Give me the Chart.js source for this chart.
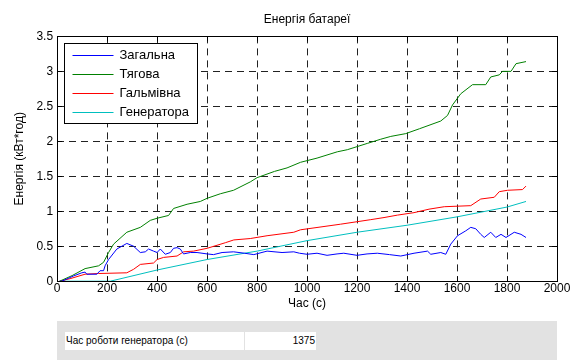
<!DOCTYPE html>
<html>
<head>
<meta charset="utf-8">
<script src="https://cdn.jsdelivr.net/npm/chart.js@4"></script>
<style>
  html, body { margin: 0; padding: 0; background: #fff; }
  #wrap { position: relative; width: 571px; height: 360px; font-family: "Liberation Sans", Arial, sans-serif; }
  #wrap canvas { position: absolute; left: 0; top: 0; }
  #panel { position: absolute; left: 57px; top: 321px; width: 500px; height: 39px; background: #e2e2e2; }
  .cell { position: absolute; top: 11px; height: 18px; background: #fff; font-size: 10px; line-height: 18px; color: #000; }
  #c1 { left: 8px; width: 178px; padding-left: 1px; }
  #c2 { left: 188px; width: 70px; text-align: right; padding-right: 1px; }
</style>
</head>
<body>
<div id="wrap">
  <canvas id="myChart" width="571" height="321"></canvas>
  <div id="panel">
    <div class="cell" id="c1">Час роботи генератора (с)</div>
    <div class="cell" id="c2">1375</div>
  </div>
</div>
<script>
(() => {
  'use strict'

  // series names
  const names = ['Загальна', 'Тягова', 'Гальмівна', 'Генератора']
  const colors = ['#0000ff', '#008000', '#ff0000', '#00bfbf']

  // Загальна
  const totalT = [10, 19, 66, 99, 112, 119, 159, 172, 186, 192, 206, 239, 279, 306, 333, 353, 366, 386, 400, 413, 433, 453, 466, 480, 493, 506, 533, 560, 600, 626, 660, 706, 750, 787, 840, 900, 947, 970, 1000, 1040, 1080, 1120, 1147, 1200, 1240, 1281, 1330, 1375, 1428, 1482, 1495, 1535, 1555, 1575, 1602, 1635, 1655, 1675, 1695, 1709, 1735, 1755, 1776, 1796, 1829, 1856, 1876]
  const totalV = [0, 0, 0.075, 0.12, 0.13, 0.10, 0.10, 0.15, 0.15, 0.22, 0.31, 0.46, 0.54, 0.50, 0.41, 0.42, 0.46, 0.43, 0.41, 0.46, 0.385, 0.41, 0.47, 0.48, 0.46, 0.39, 0.41, 0.41, 0.39, 0.38, 0.41, 0.42, 0.40, 0.38, 0.43, 0.41, 0.42, 0.40, 0.385, 0.40, 0.37, 0.39, 0.40, 0.37, 0.39, 0.40, 0.38, 0.36, 0.40, 0.43, 0.385, 0.41, 0.385, 0.53, 0.65, 0.72, 0.77, 0.75, 0.67, 0.625, 0.70, 0.625, 0.67, 0.625, 0.70, 0.67, 0.625]

  // Тягова
  const tractT = [10, 60, 112, 166, 186, 206, 226, 279, 333, 373, 400, 446, 466, 520, 573, 600, 653, 706, 773, 800, 870, 920, 974, 1040, 1121, 1161, 1241, 1295, 1335, 1395, 1450, 1535, 1562, 1582, 1615, 1662, 1715, 1735, 1769, 1782, 1816, 1836, 1876]
  const tractV = [0, 0.08, 0.18, 0.22, 0.27, 0.41, 0.53, 0.70, 0.77, 0.87, 0.90, 0.94, 1.04, 1.10, 1.14, 1.185, 1.25, 1.30, 1.42, 1.48, 1.57, 1.62, 1.70, 1.76, 1.85, 1.88, 1.97, 2.03, 2.07, 2.11, 2.18, 2.29, 2.37, 2.52, 2.68, 2.81, 2.81, 2.92, 2.95, 3.00, 3.00, 3.11, 3.14]

  // Гальмівна
  const brakeT = [10, 52, 112, 166, 279, 306, 333, 386, 400, 426, 480, 506, 546, 600, 673, 707, 773, 840, 947, 974, 1134, 1255, 1308, 1362, 1428, 1488, 1549, 1655, 1695, 1749, 1769, 1802, 1862, 1876]
  const brakeV = [0, 0.036, 0.10, 0.11, 0.12, 0.17, 0.24, 0.26, 0.31, 0.34, 0.36, 0.42, 0.43, 0.47, 0.55, 0.59, 0.61, 0.65, 0.70, 0.735, 0.815, 0.88, 0.91, 0.945, 0.98, 1.03, 1.065, 1.08, 1.175, 1.20, 1.28, 1.30, 1.31, 1.36]

  // Генератора
  const genT = [10, 213, 400, 600, 800, 1000, 1200, 1400, 1600, 1800, 1876]
  const genV = [0, 0, 0.16, 0.31, 0.43, 0.58, 0.70, 0.80, 0.92, 1.06, 1.14]

  const pts = (t, v) => t.map((x, i) => ({ x: x, y: v[i] }))
  const series = [pts(totalT, totalV), pts(tractT, tractV), pts(brakeT, brakeV), pts(genT, genV)]

  const font = { family: '"Liberation Sans", Arial, sans-serif', size: 12 }

  // frame, inner ticks and legend box like matlab
  const matlabAxes = {
    id: 'matlabAxes',
    afterDraw(chart) {
      const { ctx, chartArea: a, scales } = chart
      ctx.save()
      ctx.strokeStyle = '#000'
      ctx.lineWidth = 1
      ctx.setLineDash([])
      ctx.beginPath()
      scales.x.ticks.forEach(t => {
        const px = Math.round(scales.x.getPixelForValue(t.value)) + 0.5
        ctx.moveTo(px, a.bottom); ctx.lineTo(px, a.bottom - 5)
        ctx.moveTo(px, a.top); ctx.lineTo(px, a.top + 5)
      })
      scales.y.ticks.forEach(t => {
        const py = Math.round(scales.y.getPixelForValue(t.value)) + 0.5
        ctx.moveTo(a.left, py); ctx.lineTo(a.left + 5, py)
        ctx.moveTo(a.right, py); ctx.lineTo(a.right - 5, py)
      })
      ctx.stroke()
      ctx.strokeRect(Math.round(a.left) + 0.5, Math.round(a.top) + 0.5, Math.round(a.right - a.left), Math.round(a.bottom - a.top))

      // legend
      const lx = Math.round(a.left) + 7.5, ly = Math.round(a.top) + 7.5
      ctx.fillStyle = '#fff'
      ctx.fillRect(lx, ly, 133, 80)
      ctx.strokeRect(lx, ly, 133, 80)
      ctx.font = '13px "Liberation Sans", Arial, sans-serif'
      ctx.textBaseline = 'middle'
      chart.data.datasets.forEach((ds, i) => {
        const y = Math.round(ly + 11 + i * 19) + 0.5
        ctx.strokeStyle = ds.borderColor
        ctx.beginPath(); ctx.moveTo(lx + 8, y); ctx.lineTo(lx + 49, y); ctx.stroke()
        ctx.fillStyle = '#000'
        ctx.fillText(ds.label, lx + 55, y)
      })
      ctx.restore()
    }
  }

  const ctx = document.getElementById('myChart')

  const myChart = new Chart(ctx, {
    type: 'line',
    data: {
      datasets: series.map((d, i) => ({
        label: names[i],
        data: d,
        borderColor: colors[i],
        borderWidth: 1,
        pointRadius: 0,
        tension: 0,
        fill: false
      }))
    },
    options: {
      responsive: false,
      animation: false,
      layout: { padding: { left: 12, right: 14, top: 10, bottom: 10 } },
      scales: {
        x: {
          type: 'linear',
          min: 0,
          max: 2000,
          ticks: { stepSize: 200, color: '#000', font: font, padding: 0, maxRotation: 0, callback: v => String(v) },
          grid: { color: '#222', drawTicks: false },
          border: { display: false, dash: [7, 5] },
          title: { display: true, text: 'Час (с)', color: '#000', font: font, padding: { top: 1, bottom: 0 } }
        },
        y: {
          min: 0,
          max: 3.5,
          ticks: { stepSize: 0.5, color: '#000', font: font, padding: 4, callback: v => String(v) },
          grid: { color: '#222', drawTicks: false },
          border: { display: false, dash: [7, 5] },
          title: { display: true, text: 'Енергія (кВт*год)', color: '#000', font: font, padding: { top: 0, bottom: 6 } }
        }
      },
      plugins: {
        legend: { display: false },
        tooltip: { enabled: false },
        title: {
          display: true,
          text: 'Енергія батареї',
          color: '#000',
          font: { family: font.family, size: 12, weight: 'normal' },
          fullSize: false,
          padding: { top: 2, bottom: 10 }
        }
      }
    },
    plugins: [matlabAxes]
  })
})()
</script>
</body>
</html>
